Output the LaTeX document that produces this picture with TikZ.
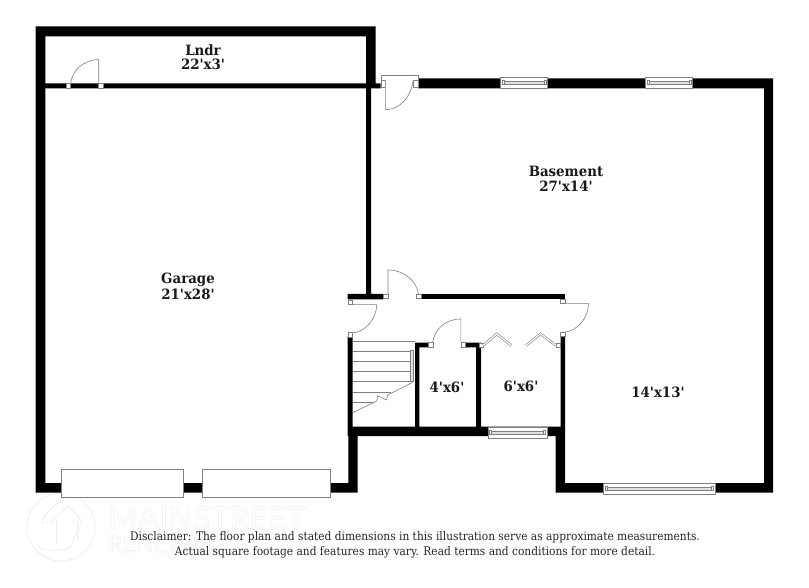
\documentclass[tikz,border=0pt]{standalone}
\usepackage{fontspec}
\setmainfont{Liberation Serif}
\newfontfamily\wm{Lato}
\newfontfamily\lbl[FakeStretch=0.94]{DejaVu Serif}
\newfontfamily\dsc[FakeStretch=0.9]{DejaVu Serif}
\definecolor{thinline}{HTML}{808080}
\definecolor{wmgray}{HTML}{EFEFEF}
\newcommand{\outl}[1]{\special{pdf:code q 1 Tr 0.5 w}#1\special{pdf:code Q}}
\tikzset{
 wall/.style={fill=black,draw=none},
 gdoor/.style={draw=thinline,line width=.7pt,fill=white},
 trim/.style={draw=thinline,line width=.6pt},
 sill/.style={draw=thinline,line width=.6pt,fill=white},
 pane/.style={draw=thinline,line width=.5pt,fill=black!12},
 room/.style={font=\lbl\bfseries\fontsize{14.2}{15}\selectfont,text=black!90,inner sep=0pt},
 note/.style={font=\dsc\fontsize{11.8}{13}\selectfont,text=black!85,inner sep=0pt},
 bifold/.style={draw=thinline,line width=2.4pt,line join=miter},
 bifoldin/.style={draw=white,line width=1.2pt,line join=miter}
}
\newcommand{\jamb}[2]{\draw[sill] (#1,#2) rectangle ++(4.6,4.6);}
\newcommand{\wind}[4]{%
  \draw[sill] (#1,#2) rectangle (#3,#4);
  \pgfmathsetmacro{\ymid}{(#2+#4)/2}
  \draw[pane] ({#1+3.5},{\ymid-1.7}) rectangle ({#3-3.5},{\ymid+1.7});
  \draw[sill] ({#1+1.5},{\ymid-2}) rectangle ++(2,4);
  \draw[sill] ({#3-1.5},{\ymid-2}) rectangle ++(-2,4);}
\begin{document}
\begin{tikzpicture}[x=1pt,y=-1pt]
\useasboundingbox[fill=white] (0,0) rectangle (809,588);
% watermark
\draw[wmgray,line width=.8pt] (61,527) circle (34);
\draw[wmgray,line width=.8pt] (36,545) .. controls (47,553) and (60,552) .. (70,547) -- (80,526) -- (82,521) -- (68,506) -- (50,523) -- (42,523) .. controls (44,512) and (55,505) .. (66,497);
\draw[wmgray,line width=.8pt] (56,521) -- (56,544) (77,520) -- (77,541);
\node[inner sep=0pt,anchor=west,text=wmgray,font=\wm\fontsize{32}{32}\selectfont] (wma) at (108,518) {\outl{MAINSTREET}};
\node[inner sep=0pt,anchor=west,text=wmgray,font=\wm\fontsize{23}{23}\selectfont] (wmb) at (108,544) {\outl{RENEWAL}};
% walls
\fill[wall,even odd rule] (35.5,26.5) -- (375.7,26.5) -- (375.7,83.3) -- (380.7,83.3) -- (380.7,88.3) -- (371,88.3) -- (371,294) -- (383.3,294) -- (383.3,299.3) -- (347.7,299.3) -- (347.7,294) -- (366,294) -- (366,88.3) -- (45.3,88.3) -- (45.3,483) -- (348.3,483) -- (348.3,436) -- (347.7,436) -- (347.7,336.7) -- (352.7,336.7) -- (352.7,426.7) -- (415,426.7) -- (415,342.7) -- (428.3,342.7) -- (428.3,347.3) -- (419.3,347.3) -- (419.3,426.7) -- (476,426.7) -- (476,347.3) -- (465.7,347.3) -- (465.7,342.7) -- (481,342.7) -- (481,426.7) -- (560.7,426.7) -- (560.7,336.7) -- (565,336.7) -- (565,483) -- (764,483) -- (764,88.3) -- (418,88.3) -- (418,78.3) -- (773,78.3) -- (773,492.7) -- (555.7,492.7) -- (555.7,436) -- (357.7,436) -- (357.7,492.7) -- (35.5,492.7) -- cycle
 (45.3,36.3) -- (45.3,83.3) -- (366,83.3) -- (366,36.3) -- cycle;
\fill[wall] (420.7,294) rectangle (565,299.3);
% garage doors
\draw[gdoor] (61.3,469) rectangle (183.3,497.3);
\draw[gdoor] (202.7,469) rectangle (330.7,497.3);
% windows
\wind{500.3}{77}{547.3}{88.3}
\wind{645.7}{77}{692.7}{88.3}
\wind{488}{427}{547}{438}
\wind{603.3}{483}{715}{494}
% lndr door
\jamb{66}{83.5}
\jamb{98.7}{83.5}
\draw[trim] (98.7,83.5) -- (98.7,59.7) .. controls (83,59.7) and (72,71) .. (70.6,83.5);
% basement top door
\draw[sill] (381,75.3) rectangle (418,80);
\draw[sill] (381,80) rectangle (385.3,87);
\draw[sill] (413.3,80) rectangle (418,87);
\draw[sill] (385.3,80) -- (385.3,109.7) .. controls (400,109.7) and (411,97) .. (413.3,80);
% door top of hall
\jamb{383.3}{294.2}
\jamb{416.2}{294.2}
\draw[trim] (388,294.2) -- (388,270) .. controls (404,270) and (417,281) .. (418.4,294.2);
% door left
\jamb{347.9}{300}
\jamb{347.9}{332.5}
\draw[trim] (352.5,304.6) -- (376.7,304.6) .. controls (376.7,319) and (365,332) .. (352.5,333);
% door right
\jamb{560.5}{299}
\jamb{560.5}{332}
\draw[trim] (565,303.6) -- (588.5,303.6) .. controls (588.5,318) and (577,331) .. (565,332);
% closet door
\jamb{428.2}{342.7}
\jamb{461}{342.7}
\draw[trim] (460.8,342.7) -- (460.8,319) .. controls (445,319) and (434,330) .. (432.8,342.7);
% bifold
\jamb{478.8}{342.9}
\jamb{556}{342.9}
\draw[bifold] (483,345.5) -- (496.7,334) -- (511.5,345.5);
\draw[bifoldin] (483,345.5) -- (496.7,334) -- (511.5,345.5);
\draw[bifold] (526,345.5) -- (540.5,334) -- (556,345.5);
\draw[bifoldin] (526,345.5) -- (540.5,334) -- (556,345.5);
% stairs
\draw[trim] (352.7,341.7) -- (415,341.7)
 (352.7,351.7) -- (411,351.7)
 (352.7,361.7) -- (411,361.7)
 (352.7,371.7) -- (411,371.7)
 (352.7,381.7) -- (412.7,381.7)
 (352.7,392.3) -- (391,392.3)
 (352.7,402.3) -- (373,402.3);
\draw[trim,fill=black!12] (410.7,350) rectangle (413.3,381.7);
\draw[trim] (412.7,382.3) -- (387.7,395) -- (386.7,400) -- (377.7,395.7) -- (376.7,401) -- (352.7,412.7);
% labels
\node[room] (lndr) at (203,50) {Lndr};
\node[room] (lndrd) at (203,64.5) {22'x3'};
\node[room] (bsmt) at (566,171) {Basement};
\node[room] (bsmtd) at (566,186) {27'x14'};
\node[room] (gar) at (188,279.5) {Garage};
\node[room] (gard) at (188,294.5) {21'x28'};
\node[room] (fourc) at (447,387) {4'x6'};
\node[room] (sixc) at (521,386) {6'x6'};
\node[room] (fourteen) at (658,392) {14'x13'};
\node[note] (d1) at (415,537) {Disclaimer: The floor plan and stated dimensions in this illustration serve as approximate measurements.};
\node[note] (d2) at (415,552.5) {Actual square footage and features may vary. Read terms and conditions for more detail.};
\end{tikzpicture}
\end{document}
